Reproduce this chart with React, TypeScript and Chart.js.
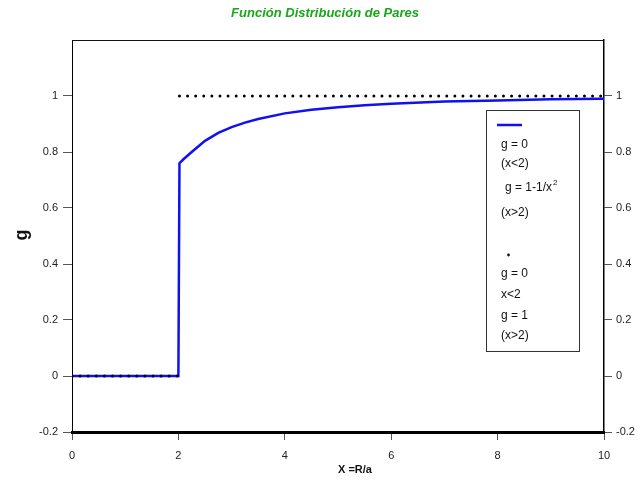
import React, { useEffect, useRef } from "react";
import { Chart, registerables } from "chart.js";

Chart.register(...registerables);

const curveX = [0, 2, 2.02, 2.1, 2.25, 2.5, 2.75, 3, 3.25, 3.5, 4, 4.5, 5, 5.5, 6, 7, 8, 9, 10];
const curveY = [0, 0, 0.76, 0.775, 0.8, 0.84, 0.868, 0.889, 0.905, 0.918, 0.938, 0.951, 0.96, 0.967, 0.972, 0.98, 0.984, 0.988, 0.99];
const stepLowX = [0, 2];
const stepLowY = [0, 0];
const stepHighX = [2.02, 10];
const stepHighY = [1, 1];
const xTicks = [0, 2, 4, 6, 8, 10];
const yTicks = [-0.2, 0, 0.2, 0.4, 0.6, 0.8, 1];
const titleText = "Función Distribución de Pares";
const xTitle = "X =R/a";
const yTitle = "g";
const legendLines = ["g = 0", "(x<2)", "g = 1-1/x", "(x>2)", "g = 0", "x<2", "g = 1", "(x>2)"];

const FONT = "'Liberation Sans', Arial, Helvetica, sans-serif";
const fmt = (v: any) => String(Number(Number(v).toFixed(1)));

const decorPlugin = {
  id: "decor",
  afterDraw(chart: any) {
    const ctx = chart.ctx;
    const a = chart.chartArea;
    ctx.save();
    ctx.strokeStyle = "#111";
    ctx.lineWidth = 1;
    ctx.beginPath();
    ctx.moveTo(a.left, a.top + 0.5);
    ctx.lineTo(a.right, a.top + 0.5);
    ctx.stroke();
    ctx.fillStyle = "#1aa61a";
    ctx.font = `italic bold 13px ${FONT}`;
    ctx.textAlign = "center";
    ctx.textBaseline = "middle";
    ctx.fillText(titleText, 325, 13);
    ctx.fillStyle = "#111";
    ctx.font = `bold 11px ${FONT}`;
    ctx.fillText(xTitle, 355, 470);
    ctx.save();
    ctx.translate(22, 235);
    ctx.rotate(-Math.PI / 2);
    ctx.font = `bold 18px ${FONT}`;
    ctx.fillText(yTitle, 0, 0);
    ctx.restore();
    ctx.strokeStyle = "#333";
    ctx.lineWidth = 1;
    ctx.strokeRect(486.5, 110.5, 93, 241);
    ctx.strokeStyle = "#1010f0";
    ctx.lineWidth = 2.5;
    ctx.beginPath();
    ctx.moveTo(497, 125);
    ctx.lineTo(522, 125);
    ctx.stroke();
    ctx.fillStyle = "#111";
    ctx.font = `12px ${FONT}`;
    ctx.textAlign = "left";
    const ys = [145, 164, 188, 213, 274, 295, 316, 336];
    legendLines.forEach((t, i) => {
      const x = i === 2 ? 505 : 501;
      ctx.fillText(t, x, ys[i]);
      if (i === 2) {
        const w = ctx.measureText(t).width;
        ctx.font = `8px ${FONT}`;
        ctx.fillText("2", x + w + 1, ys[i] - 5);
        ctx.font = `12px ${FONT}`;
      }
    });
    ctx.beginPath();
    ctx.arc(508.5, 255, 1.4, 0, Math.PI * 2);
    ctx.fill();
    ctx.restore();
  },
};

export default function App() {
  const ref = useRef<HTMLCanvasElement>(null);
  useEffect(() => {
    document.body.style.margin = "0";
    const toPts = (xs: number[], ys: number[]) => xs.map((x, i) => ({ x, y: ys[i] }));
    const dotted = (xs: number[], ys: number[]) => ({
      data: toPts(xs, ys),
      borderColor: "#000",
      borderWidth: 3,
      borderDash: [0, 8.1],
      borderCapStyle: "round",
      pointRadius: 0,
      yAxisID: "y",
    });
    const chart = new Chart(ref.current!, {
      type: "line",
      data: {
        datasets: [
          dotted(stepLowX, stepLowY),
          dotted(stepHighX, stepHighY),
          {
            data: toPts(curveX, curveY),
            borderColor: "#1010f0",
            borderWidth: 2.5,
            pointRadius: 0,
            tension: 0,
            yAxisID: "y",
          },
        ],
      },
      options: {
        animation: false,
        responsive: false,
        layout: { padding: { top: 40, left: 0, right: 0, bottom: 0 } },
        plugins: { legend: { display: false }, title: { display: false }, tooltip: { enabled: false } },
        scales: {
          x: {
            type: "linear",
            min: 0,
            max: 10,
            afterBuildTicks: (s: any) => {
              s.ticks = xTicks.map((v) => ({ value: v }));
            },
            afterFit: (s: any) => {
              s.height = 49;
            },
            border: { display: true, color: "#000", width: 3 },
            grid: { display: true, drawOnChartArea: false, drawTicks: true, tickLength: 8, color: "#555", lineWidth: 1 },
            ticks: { color: "#222", font: { family: FONT, size: 11 }, padding: 9, maxRotation: 0, callback: fmt },
          },
          y: {
            type: "linear",
            position: "left",
            min: -0.2,
            max: 1.2,
            afterBuildTicks: (s: any) => {
              s.ticks = yTicks.map((v) => ({ value: v }));
            },
            afterFit: (s: any) => {
              s.width = 72;
            },
            border: { display: true, color: "#000", width: 1 },
            grid: { display: true, drawOnChartArea: false, drawTicks: true, tickLength: 9, color: "#555", lineWidth: 1 },
            ticks: { color: "#222", font: { family: FONT, size: 11 }, padding: 5, callback: fmt },
          },
          y2: {
            type: "linear",
            position: "right",
            min: -0.2,
            max: 1.2,
            afterBuildTicks: (s: any) => {
              s.ticks = yTicks.map((v) => ({ value: v }));
            },
            afterFit: (s: any) => {
              s.width = 36;
            },
            border: { display: true, color: "#000", width: 1.5 },
            grid: { display: true, drawOnChartArea: false, drawTicks: true, tickLength: 8, color: "#555", lineWidth: 1 },
            ticks: { color: "#222", font: { family: FONT, size: 11 }, padding: 4, callback: fmt },
          },
        },
      } as any,
      plugins: [decorPlugin],
    });
    return () => chart.destroy();
  }, []);
  return (
    <div style={{ position: "absolute", left: 0, top: 0, width: 640, height: 481 }}>
      <canvas ref={ref} width={640} height={481} style={{ width: 640, height: 481 }} />
    </div>
  );
}
